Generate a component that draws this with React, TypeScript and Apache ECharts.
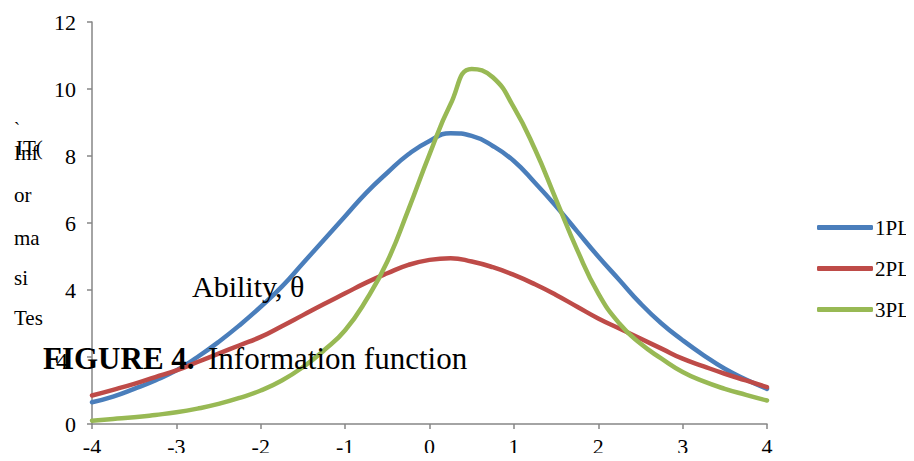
import React, { useEffect, useRef } from "react";
import * as echarts from "echarts";

const FONT = "'Liberation Serif', 'Times New Roman', serif";

const seriesNames = ["1PL", "2PL", "3PL"];
const seriesColors = ["#4a7ebb", "#be4b48", "#98b954"];

const xTicks = [-4, -3, -2, -1, 0, 1, 2, 3, 4];
const yTicks = [0, 2, 4, 6, 8, 10, 12];

const thetas = [
  -4, -3.75, -3.5, -3.25, -3, -2.75, -2.5, -2.25, -2, -1.75, -1.5, -1.25, -1,
  -0.75, -0.5, -0.25, 0, 0.25, 0.5, 0.75, 1, 1.25, 1.5, 1.75, 2, 2.25, 2.5,
  2.75, 3, 3.25, 3.5, 3.75, 4,
];
const info1PL = [
  0.65, 0.82, 1.05, 1.3, 1.6, 2.0, 2.45, 2.95, 3.5, 4.1, 4.8, 5.5, 6.2,
  6.9, 7.5, 8.05, 8.45, 8.68, 8.6, 8.3, 7.85, 7.2, 6.5, 5.75, 5.0, 4.3, 3.6,
  3.0, 2.5, 2.05, 1.65, 1.33, 1.05,
];
const info2PL = [
  0.85, 1.02, 1.2, 1.4, 1.6, 1.85, 2.1, 2.35, 2.6, 2.92, 3.25, 3.58, 3.9,
  4.22, 4.5, 4.75, 4.9, 4.95, 4.85, 4.68, 4.45, 4.17, 3.85, 3.5, 3.15, 2.85, 2.55,
  2.25, 1.95, 1.72, 1.5, 1.3, 1.1,
];
const info3PL = [
  0.1, 0.15, 0.2, 0.27, 0.35, 0.46, 0.6, 0.78, 1.0, 1.3, 1.7, 2.2, 2.8,
  3.7, 4.85, 6.4, 8.05, 9.55, 10.6, 10.35, 9.45, 8.2, 6.7, 5.2, 3.9, 3.0, 2.4,
  1.95, 1.55, 1.27, 1.05, 0.87, 0.7,
];
const seriesValues = [info1PL, info2PL, info3PL];

const yLabelParts = ["Inf", "or", "ma", "si", "Tes"];
const xAxisTitle = "Ability, θ";
const figBold = "FIGURE 4.";
const figRest = "Information function";

export default function App() {
  const ref = useRef<HTMLDivElement>(null);
  useEffect(() => {
    if (!ref.current) return;
    const chart = echarts.init(ref.current, null, { renderer: "svg" });
    const yPartY = [153, 195, 238, 278, 318];
    chart.setOption({
      animation: false,
      backgroundColor: "#ffffff",
      textStyle: { fontFamily: FONT },
      grid: { left: 92, right: 147, top: 22, bottom: 37, containLabel: false },
      xAxis: {
        type: "value",
        min: xTicks[0],
        max: xTicks[xTicks.length - 1],
        interval: 1,
        axisLine: { show: true, onZero: false, lineStyle: { color: "#868686", width: 1.5 } },
        axisTick: { show: true, length: 5, lineStyle: { color: "#868686", width: 1.5 } },
        splitLine: { show: false },
        axisLabel: { color: "#000", fontFamily: FONT, fontSize: 22, margin: 11 },
      },
      yAxis: {
        type: "value",
        min: yTicks[0],
        max: yTicks[yTicks.length - 1],
        interval: 2,
        axisLine: { show: true, onZero: false, lineStyle: { color: "#868686", width: 1.5 } },
        axisTick: { show: true, length: 5, lineStyle: { color: "#868686", width: 1.5 } },
        splitLine: { show: false },
        axisLabel: {
          color: "#000",
          fontFamily: FONT,
          fontSize: 22,
          margin: 16,
          formatter: (v: number) => (v === 2 ? "" : String(v)),
        },
      },
      legend: {
        orient: "vertical",
        left: 812,
        top: 212,
        icon: "roundRect",
        itemWidth: 56,
        itemHeight: 5,
        itemGap: 20,
        textStyle: { fontFamily: FONT, fontSize: 21, color: "#000", lineHeight: 20, padding: [0, 0, 0, -3] },
        data: seriesNames,
      },
      series: seriesNames.map((n, i) => ({
        name: n,
        type: "line",
        data: thetas.map((t, k) => [t, seriesValues[i][k]]),
        smooth: 0.5,
        symbol: "none",
        itemStyle: { color: seriesColors[i] },
        lineStyle: { color: seriesColors[i], width: 4.5, cap: "round", join: "round" },
        z: 2 + i,
      })),
      graphic: [
        ...yLabelParts.map((t, i) => ({
          type: "text",
          left: 14,
          top: yPartY[i] - 11,
          z: 10,
          style: { text: t, fontFamily: FONT, fontSize: 21, fill: "#000" },
        })),
        {
          type: "text",
          left: 16,
          top: 137,
          z: 10,
          style: { text: "IT(", fontFamily: FONT, fontSize: 21, fill: "#000" },
        },
        {
          type: "text",
          left: 14,
          top: 120,
          z: 10,
          style: { text: "`", fontFamily: FONT, fontSize: 18, fill: "#000" },
        },
        {
          type: "text",
          left: 192,
          top: 271,
          z: 10,
          style: { text: xAxisTitle, fontFamily: FONT, fontSize: 30, fill: "#000" },
        },
        {
          type: "text",
          left: 43,
          top: 343,
          z: 10,
          style: { text: figBold, fontFamily: FONT, fontSize: 31, fontWeight: "bold", fill: "#000" },
        },
        {
          type: "text",
          left: 208,
          top: 343,
          z: 10,
          style: { text: figRest, fontFamily: FONT, fontSize: 31, fill: "#000" },
        },
        {
          type: "text",
          left: 56,
          top: 349,
          z: 10,
          style: { text: "4", fontFamily: FONT, fontSize: 24, fill: "#000" },
        },
      ],
    });
    return () => chart.dispose();
  }, []);
  return <div ref={ref} style={{ width: 914, height: 461, margin: -8 }} />;
}
